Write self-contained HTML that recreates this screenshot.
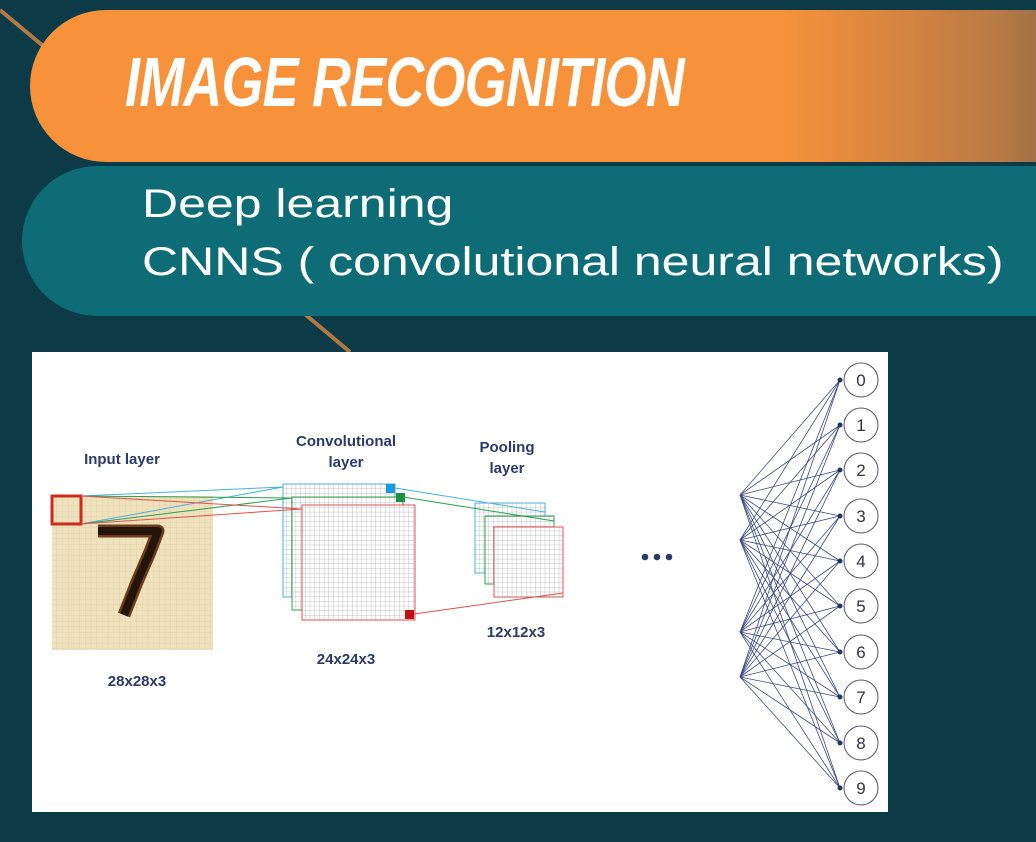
<!DOCTYPE html>
<html><head><style>
body{margin:0;width:1036px;height:842px;overflow:hidden;background:#0d3a47;font-family:"Liberation Sans",sans-serif;position:relative}
.or{position:absolute;left:30px;top:10px;width:1100px;height:152px;border-radius:76px;background:linear-gradient(90deg,#f7923a 0%,#f7923a 68%,#b97a45 88%,#6b5a48 100%)}
.tl{position:absolute;left:22px;top:166px;width:1100px;height:150px;border-radius:75px;background:#0e6c77}
.h1{position:absolute;left:125px;top:42px;color:#fff;font:italic bold 70px "Liberation Sans Narrow","Liberation Sans",sans-serif;transform:scaleX(.77);transform-origin:left;letter-spacing:-1px;white-space:nowrap}
.s{position:absolute;color:#fff;font-size:40px;left:142px;transform:scaleX(1.25);transform-origin:left;white-space:nowrap}
.panel{position:absolute;left:32px;top:352px;width:856px;height:460px;background:#fff}
</style></head><body>
<svg width="1036" height="842" style="position:absolute;left:0;top:0"><line x1="0" y1="10" x2="60" y2="60" stroke="#b07a45" stroke-width="4"/><line x1="300" y1="310" x2="350" y2="352" stroke="#b07a45" stroke-width="4"/></svg>
<div class="or"></div><div class="tl"></div>
<div class="h1">IMAGE RECOGNITION</div>
<div class="s" style="top:182px">Deep learning</div>
<div class="s" style="top:240px">CNNS ( convolutional neural networks)</div>
<div class="panel"></div>
<svg width="1036" height="842" style="position:absolute;left:0;top:0" font-family="Liberation Sans" fill="#2a3a6a">
<defs>
<pattern id="g" width="4.7" height="4.7" patternUnits="userSpaceOnUse"><path d="M4.7 0V4.7H0" fill="none" stroke="#888" stroke-width=".5"/></pattern>
<pattern id="y" width="5.7" height="5.5" patternUnits="userSpaceOnUse"><rect width="5.7" height="5.5" fill="#efe2bd"/><path d="M5.7 0V5.5H0" fill="none" stroke="#d8c99a" stroke-width=".6"/></pattern>
</defs>
<g font-size="15" font-weight="bold" text-anchor="middle">
<text x="122" y="464">Input layer</text>
<text x="346" y="446">Convolutional</text><text x="346" y="467">layer</text>
<text x="507" y="452">Pooling</text><text x="507" y="473">layer</text>
<text x="137" y="686">28x28x3</text><text x="346" y="664">24x24x3</text><text x="516" y="637">12x12x3</text>
</g>
<rect x="52" y="496" width="161" height="154" fill="url(#y)"/>
<path d="M98 531H158L150 552L137 582L124 615" fill="none" stroke="#6a3e18" stroke-width="13" stroke-linejoin="round"/>
<path d="M98 531H158L150 552L137 582L124 615" fill="none" stroke="#24140a" stroke-width="8" stroke-linejoin="round"/>
<rect x="52" y="496" width="29" height="28" fill="none" stroke="#d02a20" stroke-width="3"/>
<rect x="283" y="484" width="112" height="113" fill="#fff" stroke="#4ab0dd"/><rect x="283" y="484" width="112" height="113" fill="url(#g)"/>
<rect x="292" y="497" width="111" height="113" fill="#fff" stroke="#2aa050"/><rect x="292" y="497" width="111" height="113" fill="url(#g)"/>
<rect x="302" y="505" width="113" height="115" fill="#fff" stroke="#e05050"/><rect x="302" y="505" width="113" height="115" fill="url(#g)"/>
<rect x="386" y="484" width="9" height="9" fill="#1a9ae0"/><rect x="396" y="493" width="9" height="9" fill="#1a9040"/><rect x="405" y="610" width="9" height="9" fill="#c01010"/>
<rect x="475" y="503" width="70" height="70" fill="#fff" stroke="#4ab0dd"/><rect x="475" y="503" width="70" height="70" fill="url(#g)"/>
<rect x="485" y="516" width="69" height="68" fill="#fff" stroke="#2aa050"/><rect x="485" y="516" width="69" height="68" fill="url(#g)"/>
<rect x="494" y="527" width="69" height="70" fill="#fff" stroke="#e05050"/><rect x="494" y="527" width="69" height="70" fill="url(#g)"/>
<g stroke-width="1">
<path d="M81 496L283 487M81 524L283 487M395 488L545 512" stroke="#4ab0dd" fill="none"/>
<path d="M81 496L292 498M81 524L292 498M403 497L554 521" stroke="#2aa050" fill="none"/>
<path d="M81 496L302 509M81 524L302 509M414 614L563 593" stroke="#e05050" fill="none"/>
</g>
<circle cx="645" cy="557" r="3.3"/><circle cx="657" cy="557" r="3.3"/><circle cx="669" cy="557" r="3.3"/>
<g id="nn" stroke="#3a4a80" stroke-width=".8" fill="none"></g>
<g id="cc"></g>
</svg>
<script>
var s=[495,540,632,677],t=[380,425,470,516,561,606,652,697,743,788],g=document.getElementById('nn'),c=document.getElementById('cc'),h='',k='';
s.forEach(function(a){t.forEach(function(b){h+='<line x1="740" y1="'+a+'" x2="840" y2="'+b+'"/>'})});
t.forEach(function(b,i){k+='<circle cx="861" cy="'+b+'" r="17" fill="#fff" stroke="#556"/><text x="861" y="'+(b+6)+'" text-anchor="middle" font-size="17" fill="#334">'+i+'</text><circle cx="840" cy="'+b+'" r="2.5" fill="#223366"/>'});
g.innerHTML=h;c.innerHTML=k;
</script>
</body></html>
